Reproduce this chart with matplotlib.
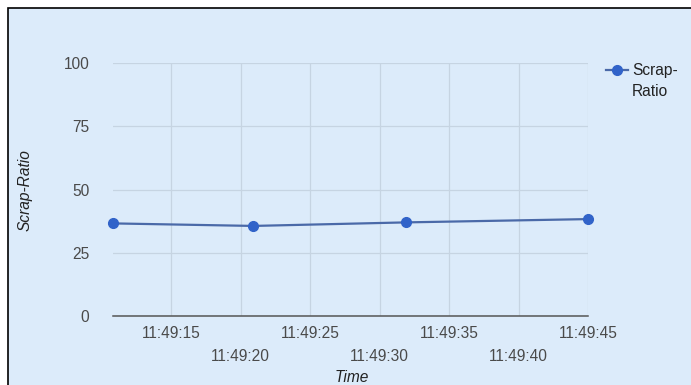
import pandas as pd
import matplotlib.pyplot as plt
from matplotlib.patches import Rectangle

plt.rcParams['font.family'] = ['Liberation Sans', 'DejaVu Sans']

# data
times = ["11:49:10.8", "11:49:20.9", "11:49:31.9", "11:49:45.0"]
scrap_ratio = [36.6, 35.6, 37.0, 38.3]
tick_times = ["11:49:15", "11:49:20", "11:49:25", "11:49:30", "11:49:35", "11:49:40", "11:49:45"]
y_ticks = [0, 25, 50, 75, 100]

day = "2024-01-01 "
t = pd.to_datetime([day + s for s in times])
ticks = pd.to_datetime([day + s for s in tick_times])

bg = "#dcebfa"
line_c = "#4a69a8"
mark_c = "#3163c9"
fs = 11.2

fig = plt.figure(figsize=(6.91, 3.85), dpi=100)
fig.patch.set_facecolor("white")
fig.patches.append(Rectangle((8 / 691, -0.01), 1.0, 1 - 8 / 385 + 0.01,
                             transform=fig.transFigure, facecolor=bg,
                             edgecolor="black", linewidth=1.2, zorder=-10))

ax = fig.add_axes([113 / 691, 1 - 316 / 385, (588 - 113) / 691, (316 - 63) / 385])
ax.set_facecolor(bg)
ax.plot(t, scrap_ratio, color=line_c, linewidth=1.6, zorder=3, clip_on=False)
ax.plot(t, scrap_ratio, linestyle="none", marker="o", markersize=7,
        color=mark_c, zorder=4, clip_on=False)

ax.set_xlim(t[0], t[-1])
ax.set_ylim(0, 100)
ax.set_yticks(y_ticks)
ax.set_xticks(ticks)
labels = [s if i % 2 == 0 else "\n" + s for i, s in enumerate(tick_times)]
ax.set_xticklabels(labels, linespacing=1.7)

ax.grid(True, color="#c6d4e2", linewidth=0.9)
for s in ax.spines.values():
    s.set_visible(False)
ax.axhline(0, color="#555555", linewidth=1.1, zorder=2, clip_on=False)
ax.tick_params(length=0, labelsize=fs, labelcolor="#4a4a4a")
ax.tick_params(axis="x", pad=7)
ax.tick_params(axis="y", pad=17)

fig.text(25 / 691, 1 - 190 / 385, "Scrap-Ratio", rotation=90, style="italic",
         fontsize=fs, color="#222222", ha="center", va="center")
fig.text(352 / 691, 1 - 377 / 385, "Time", style="italic",
         fontsize=fs, color="#222222", ha="center", va="center")

# legend
fig.add_artist(plt.Line2D([606 / 691, 628 / 691], [1 - 70 / 385] * 2,
                          transform=fig.transFigure, color=line_c, linewidth=1.6))
fig.add_artist(plt.Line2D([617 / 691], [1 - 70 / 385], transform=fig.transFigure,
                          color=mark_c, marker="o", markersize=7))
fig.text(632 / 691, 1 - 71 / 385, "Scrap-", fontsize=fs, color="#222222",
         ha="left", va="center")
fig.text(632 / 691, 1 - 91 / 385, "Ratio", fontsize=fs, color="#222222",
         ha="left", va="center")

fig.savefig("out.png", dpi=100, facecolor=fig.get_facecolor())
